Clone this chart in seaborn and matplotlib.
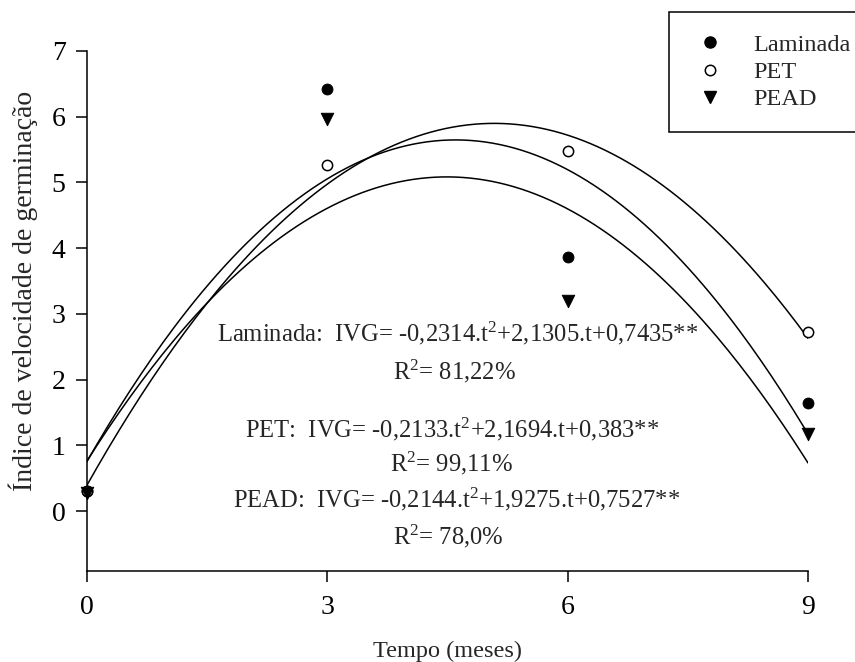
import numpy as np
import pandas as pd
import matplotlib
matplotlib.use("Agg")
import matplotlib.pyplot as plt
import seaborn as sns
from matplotlib.lines import Line2D

sns.set_theme(style="ticks")
plt.rcParams['font.family'] = ['Liberation Serif', 'DejaVu Serif']
plt.rcParams['mathtext.fontset'] = 'custom'
plt.rcParams['mathtext.rm'] = 'Liberation Serif'
plt.rcParams['mathtext.it'] = 'Liberation Serif:italic'

# Data
tempo = [0, 3, 6, 9]
laminada = [0.30, 6.42, 3.87, 1.64]
pet = [0.30, 5.26, 5.48, 2.73]
pead = [0.27, 5.97, 3.20, 1.17]

series_names = ["Laminada", "PET", "PEAD"]
coef_a = [-0.2314, -0.2133, -0.2144]
coef_b = [2.1305, 2.1694, 1.9275]
coef_c = [0.7435, 0.383, 0.7527]
r2_labels = ["81,22%", "99,11%", "78,0%"]
eq_labels = [
    "Laminada:  IVG= -0,2314.t$^2$+2,1305.t+0,7435**",
    "PET:  IVG= -0,2133.t$^2$+2,1694.t+0,383**",
    "PEAD:  IVG= -0,2144.t$^2$+1,9275.t+0,7527**",
]

df = pd.DataFrame({
    "tempo": tempo * 3,
    "ivg": laminada + pet + pead,
    "serie": sum([[n] * 4 for n in series_names], []),
})

W, H = 855, 662
fig = plt.figure(figsize=(W / 100, H / 100), dpi=100)
ax = fig.add_axes([86.5 / W, 1 - 571 / H, (808 - 86.5) / W, (571 - 51) / H])

# fitted curves
tt = np.linspace(0, 9, 200)
curves = []
for n, a, b, c in zip(series_names, coef_a, coef_b, coef_c):
    curves.append(pd.DataFrame({"t": tt, "y": a * tt**2 + b * tt + c, "serie": n}))
curves = pd.concat(curves)
sns.lineplot(data=curves, x="t", y="y", units="serie", estimator=None,
             color="black", lw=1.1, ax=ax, legend=False)

# points
sns.scatterplot(data=df[df.serie == "Laminada"], x="tempo", y="ivg", marker="o",
                s=62, color="black", edgecolor="black", ax=ax, zorder=3, clip_on=False)
sns.scatterplot(data=df[df.serie == "PET"], x="tempo", y="ivg", marker="o",
                s=55, facecolor="white", edgecolor="black", linewidth=1.1, ax=ax, zorder=3, clip_on=False)
sns.scatterplot(data=df[df.serie == "PEAD"], x="tempo", y="ivg", marker="v",
                s=80, color="black", edgecolor="black", ax=ax, zorder=3, clip_on=False)

ax.set_xlim(0, 9)
ax.set_ylim(-0.91, 7)
ax.set_xticks([0, 3, 6, 9])
ax.set_yticks(range(0, 8))
ax.tick_params(direction="out", length=8, width=1.1, labelsize=20, colors="black")
ax.tick_params(axis="x", pad=9)
ax.tick_params(axis="y", pad=7)
for s in ["top", "right"]:
    ax.spines[s].set_visible(False)
for s in ["left", "bottom"]:
    ax.spines[s].set_linewidth(1.1)
    ax.spines[s].set_color("black")

ax.set_xlabel("Tempo (meses)", fontsize=17.5, labelpad=15)
ax.set_ylabel("Índice de velocidade de germinação", fontsize=20, labelpad=10)
ax.yaxis.set_label_coords(-0.067, 0.538)

# equations (pixel positions of the text baseline)
eq_pos = [(217, 341), (245, 437), (233, 507)]
r2_pos = [(393, 379), (390, 471), (393, 544)]
for lab, (x, y) in zip(eq_labels, eq_pos):
    fig.text(x / W, 1 - y / H, lab, ha="left", va="baseline", fontsize=17.7)
for lab, (x, y) in zip(r2_labels, r2_pos):
    fig.text(x / W, 1 - y / H, "R$^2$= " + lab, ha="left", va="baseline", fontsize=17.7)

# legend
handles = [
    Line2D([], [], marker="o", ls="", color="black", markersize=8),
    Line2D([], [], marker="o", ls="", markerfacecolor="white", markeredgecolor="black",
           markeredgewidth=1.1, markersize=7.5),
    Line2D([], [], marker="v", ls="", color="black", markersize=9),
]
leg = fig.legend(handles, series_names, loc="upper left",
                 bbox_to_anchor=(669 / W, 1 - 12 / H), fontsize=17.5,
                 frameon=True, fancybox=False, edgecolor="black", framealpha=1,
                 handletextpad=0.96, borderpad=0.9, labelspacing=0.21, handlelength=1.6,
                 borderaxespad=0)
leg.get_frame().set_linewidth(1.1)

fig.savefig("out.png", dpi=100)
